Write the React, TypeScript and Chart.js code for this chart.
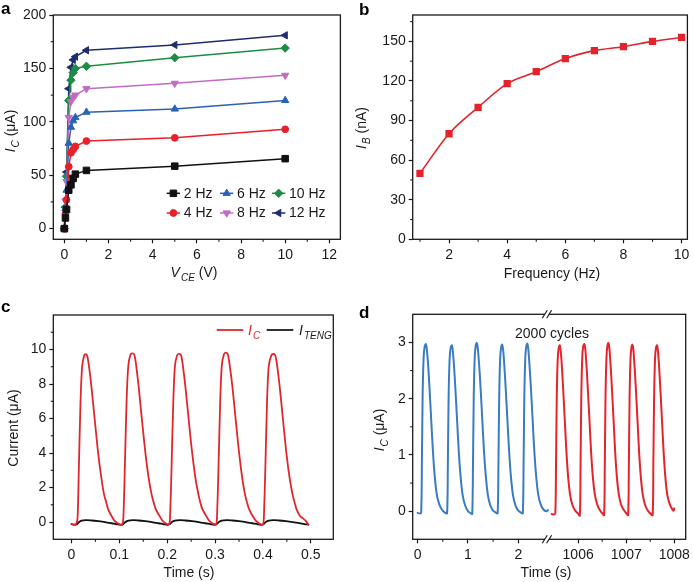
import React, { useEffect, useRef } from "react";
import { Chart, registerables } from "chart.js";

Chart.register(...registerables);

const FONT = "'Liberation Sans', Arial, Helvetica, sans-serif";
const INK = "#1a1a1a";

// ---------------- Panel a data ----------------
const vceValues = [0, 0.05, 0.1, 0.2, 0.3, 0.4, 0.5, 1, 5, 10];
const ic2Hz = [0, 10, 18, 36, 41, 47, 51, 54.5, 58.5, 65.5];
const ic4Hz = [0, 14, 27, 58, 71, 74, 77, 82, 85, 93];
const ic6Hz = [0, 19, 36, 80, 95, 101, 104, 109, 112, 120];
const ic8Hz = [0, 26, 44, 104, 119, 123, 125, 131, 136, 143.5];
const ic10Hz = [0, 20, 49, 120, 139, 146, 150, 152, 160, 169];
const ic12Hz = [0, 20, 53, 131, 151, 158, 161, 167, 172, 181];
const seriesNamesA = ["2 Hz", "4 Hz", "6 Hz", "8 Hz", "10 Hz", "12 Hz"];
const vceTicks = [0, 2, 4, 6, 8, 10, 12];
const icTicksA = [0, 50, 100, 150, 200];

// ---------------- Panel b data ----------------
const freqHz = [1, 2, 3, 4, 5, 6, 7, 8, 9, 10];
const ibNa = [50, 80, 100, 118, 127, 137, 143, 146, 150, 153];
const freqTicks = [2, 4, 6, 8, 10];
const ibTicks = [0, 30, 60, 90, 120, 150];

// ---------------- Panel c data ----------------
const icWave: [number, number][] = [
  [0, -0.12], [0.005, -0.15], [0.0095, -0.13],
  [0.0126, 0.2], [0.0153, 3.0], [0.0188, 6.9], [0.0222, 9.0], [0.0264, 9.64], [0.0293, 9.73], [0.0328, 9.64],
  [0.0369, 8.97], [0.0418, 7.8], [0.0487, 5.9], [0.0557, 4.0], [0.0627, 2.5], [0.068, 1.6], [0.072, 1.2],
  [0.0766, 0.75], [0.0837, 0.35], [0.0906, 0.05], [0.0975, -0.08], [0.1035, -0.15], [0.1065, -0.12],
  [0.1085, 0.3], [0.1115, 3.2], [0.115, 6.9], [0.1185, 9.0], [0.123, 9.7], [0.1276, 9.78], [0.1315, 9.68],
  [0.1355, 9.0], [0.1405, 7.8], [0.1475, 5.85], [0.1545, 4.0], [0.1615, 2.5], [0.167, 1.65], [0.1715, 1.15],
  [0.176, 0.75], [0.183, 0.4], [0.1895, 0.1], [0.1955, -0.05], [0.2015, -0.13], [0.2045, -0.12],
  [0.206, 0.3], [0.209, 3.1], [0.2125, 6.8], [0.216, 9.0], [0.2205, 9.65], [0.225, 9.75], [0.229, 9.66],
  [0.233, 9.0], [0.238, 7.85], [0.245, 5.9], [0.252, 4.05], [0.259, 2.55], [0.2645, 1.7], [0.269, 1.15],
  [0.2735, 0.75], [0.2805, 0.4], [0.287, 0.1], [0.293, -0.05], [0.2995, -0.14], [0.3025, -0.13],
  [0.304, 0.25], [0.307, 3.0], [0.3105, 6.8], [0.314, 9.05], [0.3185, 9.72], [0.3228, 9.82], [0.3268, 9.7],
  [0.331, 9.0], [0.336, 7.9], [0.343, 5.95], [0.35, 4.05], [0.357, 2.5], [0.3625, 1.6], [0.367, 1.1],
  [0.3715, 0.72], [0.3785, 0.35], [0.385, 0.08], [0.391, -0.06], [0.397, -0.15], [0.4005, -0.12],
  [0.402, 0.3], [0.405, 3.1], [0.4085, 6.9], [0.412, 9.0], [0.4175, 9.66], [0.4218, 9.74], [0.4258, 9.65],
  [0.43, 9.0], [0.435, 7.85], [0.442, 5.9], [0.449, 4.0], [0.456, 2.5], [0.4615, 1.65], [0.466, 1.15],
  [0.4705, 0.72], [0.4775, 0.35], [0.484, 0.2], [0.489, 0.08], [0.495, -0.15],
];
const itengWave: [number, number][] = [
  [0, -0.12], [0.006, -0.15], [0.011, -0.14], [0.016, 0.0], [0.021, 0.08], [0.03, 0.11], [0.042, 0.09],
  [0.056, 0.05], [0.07, 0.0], [0.084, -0.07], [0.095, -0.13], [0.103, -0.16], [0.108, -0.12],
  [0.113, 0.01], [0.119, 0.08], [0.128, 0.11], [0.14, 0.09], [0.154, 0.05], [0.168, 0.0], [0.182, -0.07],
  [0.193, -0.13], [0.2, -0.16], [0.205, -0.13],
  [0.21, 0.0], [0.216, 0.08], [0.226, 0.11], [0.238, 0.09], [0.252, 0.05], [0.266, 0.0], [0.28, -0.07],
  [0.291, -0.13], [0.298, -0.16], [0.303, -0.13],
  [0.308, 0.0], [0.314, 0.08], [0.324, 0.11], [0.336, 0.09], [0.35, 0.05], [0.364, 0.0], [0.378, -0.07],
  [0.389, -0.13], [0.396, -0.16], [0.401, -0.13],
  [0.406, 0.0], [0.412, 0.08], [0.422, 0.11], [0.434, 0.09], [0.448, 0.05], [0.462, 0.0], [0.476, -0.06],
  [0.487, -0.12], [0.495, -0.15],
];
const timeTicksC = [0, 0.1, 0.2, 0.3, 0.4, 0.5];
const timeTickLabelsC = ["0", "0.1", "0.2", "0.3", "0.4", "0.5"];
const currentTicksC = [0, 2, 4, 6, 8, 10];

// ---------------- Panel d data ----------------
const icStart: [number, number][] = [
  [0.0, -0.03], [0.04, -0.04], [0.07, -0.03], [0.085, 0.9], [0.1, 2.1], [0.12, 2.75], [0.14, 2.93], [0.163, 2.97],
  [0.18, 2.9], [0.205, 2.65], [0.235, 2.2], [0.27, 1.62], [0.305, 1.05], [0.34, 0.62], [0.38, 0.3], [0.43, 0.12],
  [0.49, 0.02], [0.55, -0.03], [0.585, -0.04],
  [0.6, 0.8], [0.615, 2.0], [0.635, 2.7], [0.655, 2.9], [0.679, 2.95], [0.695, 2.88], [0.72, 2.62], [0.75, 2.18],
  [0.785, 1.6], [0.82, 1.02], [0.855, 0.6], [0.895, 0.28], [0.945, 0.1], [1.0, 0.0], [1.06, -0.04], [1.085, -0.05],
  [1.1, 0.85], [1.115, 2.05], [1.135, 2.75], [1.155, 2.95], [1.176, 2.99], [1.195, 2.9], [1.22, 2.63], [1.25, 2.2],
  [1.285, 1.62], [1.32, 1.04], [1.355, 0.62], [1.395, 0.29], [1.445, 0.1], [1.5, 0.01], [1.56, -0.03], [1.59, -0.04],
  [1.605, 0.8], [1.62, 2.0], [1.64, 2.72], [1.66, 2.92], [1.68, 2.96], [1.697, 2.88], [1.72, 2.62], [1.75, 2.18],
  [1.785, 1.6], [1.82, 1.03], [1.855, 0.6], [1.895, 0.28], [1.945, 0.1], [2.0, 0.01], [2.06, -0.03], [2.09, -0.04],
  [2.105, 0.85], [2.12, 2.05], [2.14, 2.75], [2.16, 2.94], [2.18, 2.98], [2.197, 2.9], [2.22, 2.63], [2.25, 2.2],
  [2.285, 1.62], [2.32, 1.04], [2.355, 0.62], [2.395, 0.3], [2.445, 0.12], [2.5, 0.03], [2.56, 0.0], [2.59, 0.02],
];
const icAfter2000: [number, number][] = [
  [1005.45, -0.05], [1005.49, -0.06], [1005.525, -0.04], [1005.54, 0.85], [1005.555, 2.0], [1005.575, 2.7],
  [1005.595, 2.9], [1005.618, 2.95], [1005.635, 2.87], [1005.66, 2.6], [1005.69, 2.15], [1005.725, 1.57],
  [1005.76, 1.0], [1005.795, 0.58], [1005.835, 0.28], [1005.885, 0.1], [1005.94, 0.01], [1005.995, -0.04], [1006.035, -0.08],
  [1006.05, 0.8], [1006.065, 2.0], [1006.085, 2.72], [1006.105, 2.93], [1006.13, 2.97], [1006.147, 2.9], [1006.172, 2.62],
  [1006.202, 2.17], [1006.237, 1.6], [1006.272, 1.02], [1006.307, 0.6], [1006.347, 0.3], [1006.397, 0.12], [1006.45, 0.02],
  [1006.505, -0.04], [1006.54, -0.07],
  [1006.555, 0.85], [1006.57, 2.05], [1006.59, 2.75], [1006.61, 2.95], [1006.63, 2.99], [1006.647, 2.92], [1006.672, 2.64],
  [1006.702, 2.2], [1006.737, 1.62], [1006.772, 1.03], [1006.807, 0.6], [1006.847, 0.29], [1006.897, 0.11], [1006.95, 0.02],
  [1007.005, -0.04], [1007.04, -0.07],
  [1007.055, 0.8], [1007.07, 2.0], [1007.09, 2.72], [1007.11, 2.92], [1007.13, 2.96], [1007.147, 2.89], [1007.172, 2.6],
  [1007.202, 2.16], [1007.237, 1.58], [1007.272, 1.0], [1007.307, 0.58], [1007.347, 0.28], [1007.397, 0.1], [1007.45, 0.01],
  [1007.51, -0.05], [1007.55, -0.07],
  [1007.565, 0.85], [1007.58, 2.0], [1007.6, 2.72], [1007.62, 2.91], [1007.64, 2.95], [1007.657, 2.88], [1007.682, 2.6],
  [1007.712, 2.15], [1007.747, 1.57], [1007.782, 1.0], [1007.817, 0.58], [1007.857, 0.28], [1007.907, 0.12], [1007.96, 0.03],
  [1007.985, 0.01], [1008.0, 0.05],
];
const timeTicksD = [0, 1, 2, 1006, 1007, 1008];
const timeTickLabelsD = ["0", "1", "2", "1006", "1007", "1008"];
const currentTicksD = [0, 1, 2, 3];
const breakLeft = 2.569; // axis break position (s, left segment)
const breakRight = 1005.351; // same break, right segment (s)
const rightScale = 0.955;
const toVirt = (t: number) => (t < 100 ? t : breakLeft + (t - breakRight) * rightScale);

// ---------------- helpers ----------------
type Part = { t: string; it?: boolean; sub?: boolean; color?: string };

function drawRich(ctx: CanvasRenderingContext2D, parts: Part[], x: number, y: number, align: "left" | "center", rotate = false, size = 14, color = INK) {
  const subSize = Math.round(size * 0.72);
  const fontOf = (p: Part) => `${p.it ? "italic " : ""}${p.sub ? subSize : size}px ${FONT}`;
  ctx.save();
  let total = 0;
  const widths = parts.map((p) => {
    ctx.font = fontOf(p);
    const w = ctx.measureText(p.t).width + (p.it && !p.sub ? 1 : 0);
    total += w;
    return w;
  });
  ctx.translate(x, y);
  if (rotate) ctx.rotate(-Math.PI / 2);
  let cx = align === "center" ? -total / 2 : 0;
  ctx.textBaseline = "alphabetic";
  ctx.textAlign = "left";
  parts.forEach((p, i) => {
    ctx.font = fontOf(p);
    ctx.fillStyle = p.color ?? color;
    ctx.fillText(p.t, cx, p.sub ? size * 0.3 : 0);
    cx += widths[i];
  });
  ctx.restore();
}

function drawMarker(ctx: CanvasRenderingContext2D, style: string, rotation: number, x: number, y: number, r: number, color: string) {
  ctx.save();
  ctx.fillStyle = color;
  ctx.strokeStyle = color;
  ctx.beginPath();
  let rad = (rotation * Math.PI) / 180;
  if (style === "rect") {
    const s = Math.SQRT1_2 * r;
    ctx.rect(x - s, y - s, 2 * s, 2 * s);
  } else if (style === "circle") {
    ctx.arc(x, y, r, 0, Math.PI * 2);
  } else if (style === "triangle") {
    for (let k = 0; k < 3; k++) {
      const px = x + Math.sin(rad) * r;
      const py = y - Math.cos(rad) * r;
      if (k === 0) ctx.moveTo(px, py);
      else ctx.lineTo(px, py);
      rad += (2 * Math.PI) / 3;
    }
    ctx.closePath();
  } else if (style === "rectRot") {
    ctx.moveTo(x, y - r);
    ctx.lineTo(x + r, y);
    ctx.lineTo(x, y + r);
    ctx.lineTo(x - r, y);
    ctx.closePath();
  }
  ctx.fill();
  ctx.stroke();
  ctx.restore();
}

type Deco = {
  letter: string;
  letterPos: [number, number];
  minorX: number[];
  minorY: number[];
  xTitle: Part[];
  xTitlePos: [number, number];
  yTitle: Part[];
  yTitlePos: [number, number];
  extra?: (chart: any) => void;
};

function decoPlugin(d: Deco) {
  return {
    id: "deco",
    afterDraw(chart: any) {
      const ctx: CanvasRenderingContext2D = chart.ctx;
      const a = chart.chartArea;
      ctx.save();
      ctx.strokeStyle = INK;
      ctx.lineWidth = 1.3;
      ctx.strokeRect(a.left, a.top, a.right - a.left, a.bottom - a.top);
      ctx.lineWidth = 1.1;
      d.minorX.forEach((v) => {
        const p = chart.scales.x.getPixelForValue(v);
        ctx.beginPath();
        ctx.moveTo(p, a.bottom);
        ctx.lineTo(p, a.bottom + 2.5);
        ctx.stroke();
      });
      d.minorY.forEach((v) => {
        const p = chart.scales.y.getPixelForValue(v);
        ctx.beginPath();
        ctx.moveTo(a.left, p);
        ctx.lineTo(a.left - 2.5, p);
        ctx.stroke();
      });
      ctx.font = `bold 17px ${FONT}`;
      ctx.fillStyle = "#000";
      ctx.textAlign = "left";
      ctx.textBaseline = "alphabetic";
      ctx.fillText(d.letter, d.letterPos[0], d.letterPos[1]);
      ctx.restore();
      drawRich(ctx, d.xTitle, d.xTitlePos[0], d.xTitlePos[1], "center");
      drawRich(ctx, d.yTitle, d.yTitlePos[0], d.yTitlePos[1], "center", true);
      if (d.extra) d.extra(chart);
    },
  };
}

type AxisSpec = { min: number; max: number; ticks: number[]; labels?: string[] };

function baseOptions(W: number, H: number, area: { l: number; t: number; r: number; b: number }, xs: AxisSpec, ys: AxisSpec) {
  const tickFont = { family: FONT, size: 14 };
  const grid = { display: true, drawOnChartArea: false, drawTicks: true, tickLength: 4, tickWidth: 1.2, tickColor: INK };
  return {
    responsive: false,
    animation: false as const,
    layout: { padding: { left: 0, top: area.t, right: W - area.r, bottom: 0 } },
    plugins: { legend: { display: false }, tooltip: { enabled: false } },
    elements: { line: { borderCapStyle: "round", borderJoinStyle: "round" } },
    scales: {
      x: {
        type: "linear",
        min: xs.min,
        max: xs.max,
        afterFit: (s: any) => {
          s.height = H - area.b;
        },
        afterBuildTicks: (s: any) => {
          s.ticks = xs.ticks.map((v) => ({ value: v }));
        },
        ticks: {
          font: tickFont,
          color: INK,
          padding: 3,
          maxRotation: 0,
          autoSkip: false,
          callback: (v: any, i: number) => (xs.labels ? xs.labels[i] : String(v)),
        },
        grid,
        border: { display: false },
      },
      y: {
        type: "linear",
        min: ys.min,
        max: ys.max,
        afterFit: (s: any) => {
          s.width = area.l;
        },
        afterBuildTicks: (s: any) => {
          s.ticks = ys.ticks.map((v) => ({ value: v }));
        },
        ticks: {
          font: tickFont,
          color: INK,
          padding: 3,
          autoSkip: false,
          callback: (v: any, i: number) => (ys.labels ? ys.labels[i] : String(v)),
        },
        grid,
        border: { display: false },
      },
    },
  };
}

// ---------------- chart configs ----------------
function configA(): any {
  const colors = ["#111111", "#e8202a", "#2a62b5", "#c26bc4", "#1e8c45", "#1f2d6e"];
  const styles = ["rect", "circle", "triangle", "triangle", "rectRot", "triangle"];
  const rots = [0, 0, 0, 180, 0, -90];
  const radii = [4.6, 3.4, 4.2, 4.2, 4.2, 4.2];
  const series = [ic2Hz, ic4Hz, ic6Hz, ic8Hz, ic10Hz, ic12Hz];
  const datasets = series.map((s, i) => ({
    label: seriesNamesA[i],
    data: vceValues.map((x, k) => ({ x, y: s[k] })),
    borderColor: colors[i],
    backgroundColor: colors[i],
    borderWidth: 1.5,
    pointStyle: styles[i],
    rotation: rots[i],
    pointRadius: radii[i],
    pointBorderWidth: 1,
    tension: 0,
  }));
  const legendOrder = [0, 2, 4, 1, 3, 5];
  const colX = [166.7, 220, 272];
  const rowY = [193.3, 213];
  const extra = (chart: any) => {
    const ctx: CanvasRenderingContext2D = chart.ctx;
    legendOrder.forEach((idx, k) => {
      const x = colX[k % 3];
      const y = rowY[Math.floor(k / 3)];
      ctx.save();
      ctx.strokeStyle = colors[idx];
      ctx.lineWidth = 1.5;
      ctx.beginPath();
      ctx.moveTo(x, y);
      ctx.lineTo(x + 13.3, y);
      ctx.stroke();
      ctx.restore();
      drawMarker(ctx, styles[idx], rots[idx], x + 6.7, y, radii[idx], colors[idx]);
      ctx.save();
      ctx.font = `14px ${FONT}`;
      ctx.fillStyle = INK;
      ctx.textBaseline = "middle";
      ctx.fillText(seriesNamesA[idx], x + 17, y + 0.5);
      ctx.restore();
    });
  };
  const opts = baseOptions(346, 290, { l: 53.3, t: 15, r: 343.5, b: 239.3 }, { min: -0.5, max: 12.5, ticks: vceTicks }, { min: -10, max: 200, ticks: icTicksA });
  return {
    type: "line",
    data: { datasets },
    options: opts,
    plugins: [
      decoPlugin({
        letter: "a",
        letterPos: [1, 14],
        minorX: [1, 3, 5, 7, 9, 11],
        minorY: [25, 75, 125, 175],
        xTitle: [{ t: "V", it: true }, { t: "CE", it: true, sub: true }, { t: " (V)" }],
        xTitlePos: [194, 277],
        yTitle: [{ t: "I", it: true }, { t: "C", it: true, sub: true }, { t: " (μA)" }],
        yTitlePos: [15, 131],
        extra,
      }),
    ],
  };
}

function configB(): any {
  const red = "#e3232c";
  const opts = baseOptions(347, 290, { l: 66.7, t: 15, r: 344, b: 239.3 }, { min: 0.75, max: 10.2, ticks: freqTicks }, { min: 0, max: 170, ticks: ibTicks });
  return {
    type: "line",
    data: {
      datasets: [
        {
          data: freqHz.map((x, k) => ({ x, y: ibNa[k] })),
          borderColor: red,
          backgroundColor: red,
          borderWidth: 1.6,
          pointStyle: "rect",
          pointRadius: 4,
          cubicInterpolationMode: "monotone",
        },
      ],
    },
    options: opts,
    plugins: [
      decoPlugin({
        letter: "b",
        letterPos: [13, 15],
        minorX: [1, 3, 5, 7, 9],
        minorY: [15, 45, 75, 105, 135, 165],
        xTitle: [{ t: "Frequency (Hz)" }],
        xTitlePos: [206, 278],
        yTitle: [{ t: "I", it: true }, { t: "B", it: true, sub: true }, { t: " (nA)" }],
        yTitlePos: [20, 128],
      }),
    ],
  };
}

function configC(): any {
  const red = "#e0262d";
  const extra = (chart: any) => {
    const ctx: CanvasRenderingContext2D = chart.ctx;
    ctx.save();
    ctx.lineWidth = 1.8;
    ctx.strokeStyle = red;
    ctx.beginPath();
    ctx.moveTo(216.7, 40);
    ctx.lineTo(243.3, 40);
    ctx.stroke();
    ctx.strokeStyle = INK;
    ctx.beginPath();
    ctx.moveTo(266.7, 40);
    ctx.lineTo(293.3, 40);
    ctx.stroke();
    ctx.restore();
    drawRich(ctx, [{ t: "I", it: true }, { t: "C", it: true, sub: true }], 248, 45, "left", false, 14, red);
    drawRich(ctx, [{ t: "I", it: true }, { t: "TENG", it: true, sub: true }], 299, 45, "left", false, 14, INK);
  };
  const opts = baseOptions(346, 292, { l: 53.3, t: 25, r: 333.3, b: 249.3 }, { min: -0.038, max: 0.547, ticks: timeTicksC, labels: timeTickLabelsC }, { min: -1, max: 12, ticks: currentTicksC });
  return {
    type: "line",
    data: {
      datasets: [
        { data: icWave.map(([x, y]) => ({ x, y })), borderColor: red, borderWidth: 1.8, pointRadius: 0, tension: 0.3, order: 0 },
        { data: itengWave.map(([x, y]) => ({ x, y })), borderColor: "#111", borderWidth: 1.8, pointRadius: 0, tension: 0.3, order: 1 },
      ],
    },
    options: opts,
    plugins: [
      decoPlugin({
        letter: "c",
        letterPos: [1, 22],
        minorX: [0.05, 0.15, 0.25, 0.35, 0.45],
        minorY: [1, 3, 5, 7, 9, 11],
        xTitle: [{ t: "Time (s)" }],
        xTitlePos: [189, 287],
        yTitle: [{ t: "Current (μA)" }],
        yTitlePos: [18, 138],
        extra,
      }),
    ],
  };
}

function configD(): any {
  const blue = "#3a7cc3";
  const red = "#e3242b";
  const extra = (chart: any) => {
    const ctx: CanvasRenderingContext2D = chart.ctx;
    const a = chart.chartArea;
    const bx = chart.scales.x.getPixelForValue(breakLeft);
    ctx.save();
    [a.top, a.bottom].forEach((yy: number) => {
      ctx.fillStyle = "#fff";
      ctx.fillRect(bx - 2, yy - 2, 4, 4);
      ctx.strokeStyle = INK;
      ctx.lineWidth = 1.2;
      [-2.2, 2.2].forEach((dx) => {
        ctx.beginPath();
        ctx.moveTo(bx + dx - 2.5, yy + 4);
        ctx.lineTo(bx + dx + 2.5, yy - 4);
        ctx.stroke();
      });
    });
    ctx.restore();
    ctx.save();
    ctx.font = `14px ${FONT}`;
    ctx.fillStyle = INK;
    ctx.textAlign = "center";
    ctx.textBaseline = "alphabetic";
    ctx.fillText("2000 cycles", 206, 48);
    ctx.restore();
  };
  const opts = baseOptions(
    347,
    292,
    { l: 66.7, t: 24.3, r: 343.3, b: 249.3 },
    { min: -0.098, max: 5.326, ticks: timeTicksD.map(toVirt), labels: timeTickLabelsD },
    { min: -0.5, max: 3.5, ticks: currentTicksD }
  );
  return {
    type: "line",
    data: {
      datasets: [
        { data: icStart.map(([t, y]) => ({ x: toVirt(t), y })), borderColor: blue, borderWidth: 2, pointRadius: 0, tension: 0.3 },
        { data: icAfter2000.map(([t, y]) => ({ x: toVirt(t), y })), borderColor: red, borderWidth: 2, pointRadius: 0, tension: 0.3 },
      ],
    },
    options: opts,
    plugins: [
      decoPlugin({
        letter: "d",
        letterPos: [13, 28],
        minorX: [0.5, 1.5, 1006.5, 1007.5].map(toVirt),
        minorY: [0.5, 1.5, 2.5],
        xTitle: [{ t: "Time (s)" }],
        xTitlePos: [200, 287],
        yTitle: [{ t: "I", it: true }, { t: "C", it: true, sub: true }, { t: " (μA)" }],
        yTitlePos: [38, 140],
        extra,
      }),
    ],
  };
}

export default function App() {
  const ra = useRef<HTMLCanvasElement>(null);
  const rb = useRef<HTMLCanvasElement>(null);
  const rc = useRef<HTMLCanvasElement>(null);
  const rd = useRef<HTMLCanvasElement>(null);
  useEffect(() => {
    document.body.style.margin = "0";
    const charts = [
      new Chart(ra.current as HTMLCanvasElement, configA()),
      new Chart(rb.current as HTMLCanvasElement, configB()),
      new Chart(rc.current as HTMLCanvasElement, configC()),
      new Chart(rd.current as HTMLCanvasElement, configD()),
    ];
    return () => charts.forEach((c) => c.destroy());
  }, []);
  const abs = (l: number, t: number, w: number, h: number): React.CSSProperties => ({ position: "absolute", left: l, top: t, width: w, height: h });
  return (
    <div style={{ position: "fixed", left: 0, top: 0, width: 693, height: 582, background: "#fff" }}>
      <canvas ref={ra} width={346} height={290} style={abs(0, 0, 346, 290)} />
      <canvas ref={rb} width={347} height={290} style={abs(346, 0, 347, 290)} />
      <canvas ref={rc} width={346} height={292} style={abs(0, 290, 346, 292)} />
      <canvas ref={rd} width={347} height={292} style={abs(346, 290, 347, 292)} />
    </div>
  );
}
